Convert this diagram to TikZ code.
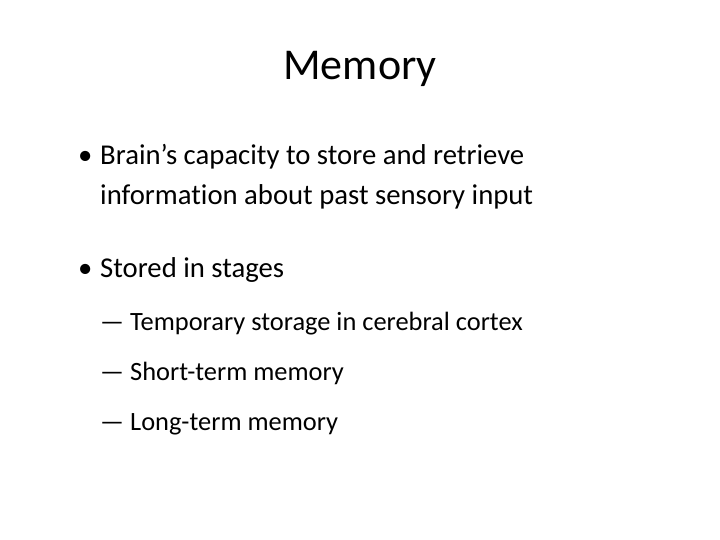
\documentclass[tikz,border=0pt]{standalone}
\usepackage{fontspec}
\setmainfont[RawFeature={-liga;-clig;-dlig;-calt}]{Carlito}
\begin{document}
\begin{tikzpicture}[x=1pt,y=-1pt,
  txt/.style={anchor=base west,inner sep=0pt,font=\fontsize{28.7}{30}\selectfont},
  sub/.style={anchor=base west,inner sep=0pt,font=\fontsize{26.4}{28}\selectfont}]
\useasboundingbox[fill=white] (0,0) rectangle (720,540);
\node[anchor=base,inner sep=0pt,font=\fontsize{44}{48}\selectfont] (title) at (360,80) {Memory};
\node[txt] (b1) at (78,165) {•};
\node[txt] (l1) at (100,165) {Brain’s capacity to store and retrieve};
\node[txt] (l2) at (100,205) {information about past sensory input};
\node[txt] (b2) at (78,277) {•};
\node[txt] (l3) at (100,277) {Stored in stages};
\node[sub] (d1) at (100,330) {—};
\node[sub] (s1) at (130,330) {Temporary storage in cerebral cortex};
\node[sub] (d2) at (100,380) {—};
\node[sub] (s2) at (130,380) {Short-term memory};
\node[sub] (d3) at (100,430) {—};
\node[sub] (s3) at (130,430) {Long-term memory};
\end{tikzpicture}
\end{document}
